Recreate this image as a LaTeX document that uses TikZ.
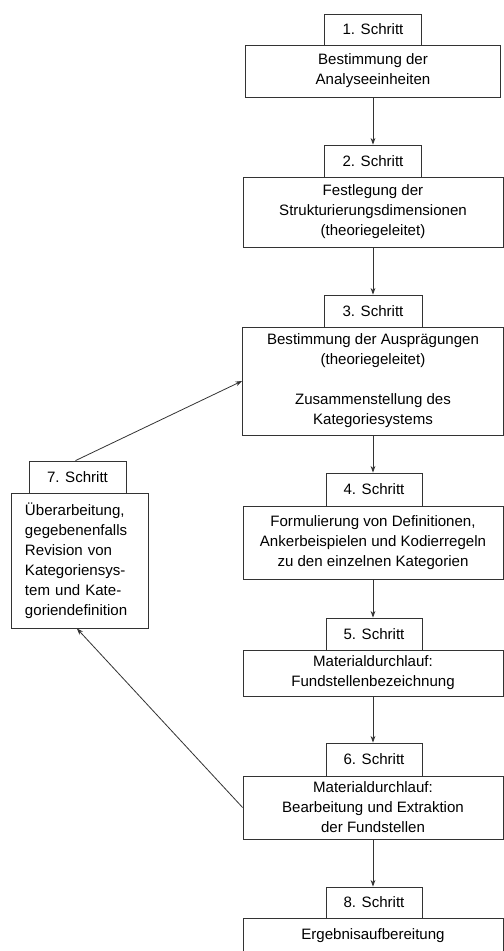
\documentclass[tikz,border=0pt]{standalone}
\usepackage{fontspec}
\setmainfont{Liberation Sans}
\usetikzlibrary{arrows.meta}
\tikzset{
  box/.style={draw=black!80, line width=0.6pt, align=center, inner sep=0pt,
    font=\fontsize{11.3}{15}\selectfont},
  arr/.style={draw=black!80, line width=0.6pt, -{Stealth[length=5pt,width=3.6pt]}}
}
\begin{document}
\begin{tikzpicture}[x=0.75pt,y=-0.75pt]
\fill[white] (0,0) rectangle (504,951);
\useasboundingbox (0,0) rectangle (504,951);
% step 1
\node[box, minimum width=72.75pt, minimum height=23.25pt] (s1) at (373,29.5) {1. Schritt};
\node[box, minimum width=191.25pt, minimum height=39pt] (b1) at (373,71) {Bestimmung der\\Analyseeinheiten};
% step 2
\node[box, minimum width=72.75pt, minimum height=24pt] (s2) at (373,161) {2. Schritt};
\node[box, minimum width=195pt, minimum height=52.5pt] (b2) at (373,212) {Festlegung der\\Strukturierungsdimensionen\\(theoriegeleitet)};
% step 3
\node[box, minimum width=73.5pt, minimum height=24pt] (s3) at (373,311) {3. Schritt};
\node[box, minimum width=195.75pt, minimum height=81pt] (b3) at (373,381) {Bestimmung der Ausprägungen\\(theoriegeleitet)\\[15pt]Zusammenstellung des\\Kategoriesystems};
% step 4
\node[box, minimum width=72pt, minimum height=24.75pt] (s4) at (374,489.5) {4. Schritt};
\node[box, minimum width=195pt, minimum height=54.75pt] (b4) at (373,542.5) {Formulierung von Definitionen,\\Ankerbeispielen und Kodierregeln\\zu den einzelnen Kategorien};
% step 5
\node[box, minimum width=72pt, minimum height=24pt] (s5) at (374,634) {5. Schritt};
\node[box, minimum width=195pt, minimum height=34.5pt] (b5) at (373,673) {Materialdurchlauf:\\Fundstellenbezeichnung};
% step 6
\node[box, minimum width=72pt, minimum height=24.75pt] (s6) at (374,759.5) {6. Schritt};
\node[box, minimum width=195pt, minimum height=47.25pt] (b6) at (373,807.5) {Materialdurchlauf:\\Bearbeitung und Extraktion\\der Fundstellen};
% step 8
\node[box, minimum width=72pt, minimum height=23.25pt] (s8) at (374,902.5) {8. Schritt};
\node[box, minimum width=195pt, minimum height=26.25pt] (b8) at (373,935.5) {Ergebnisaufbereitung};
% step 7
\node[box, minimum width=72.75pt, minimum height=24pt] (s7) at (77.5,477) {7. Schritt};
\node[box, align=left, text width=81.75pt, inner xsep=10.5pt, minimum height=101.25pt] (b7) at (79.5,560.5)
  {\hyphenpenalty=10000 Überarbeitung,\\gegebenenfalls\\Revision von\\Kategoriensys-\\tem und Kate-\\goriendefinition};
% arrows
\draw[arr] (b1.south) -- (b1.south |- s2.north);
\draw[arr] (b2.south) -- (b2.south |- s3.north);
\draw[arr] (b3.south) -- (b3.south |- s4.north);
\draw[arr] (b4.south) -- (b4.south |- s5.north);
\draw[arr] (b5.south) -- (b5.south |- s6.north);
\draw[arr] (b6.south) -- (b6.south |- s8.north);
\draw[arr] ([xshift=-1.5pt]s7.north) -- (b3.west);
\draw[arr] (b6.west) -- ([xshift=-2pt]b7.south);
\end{tikzpicture}
\end{document}
